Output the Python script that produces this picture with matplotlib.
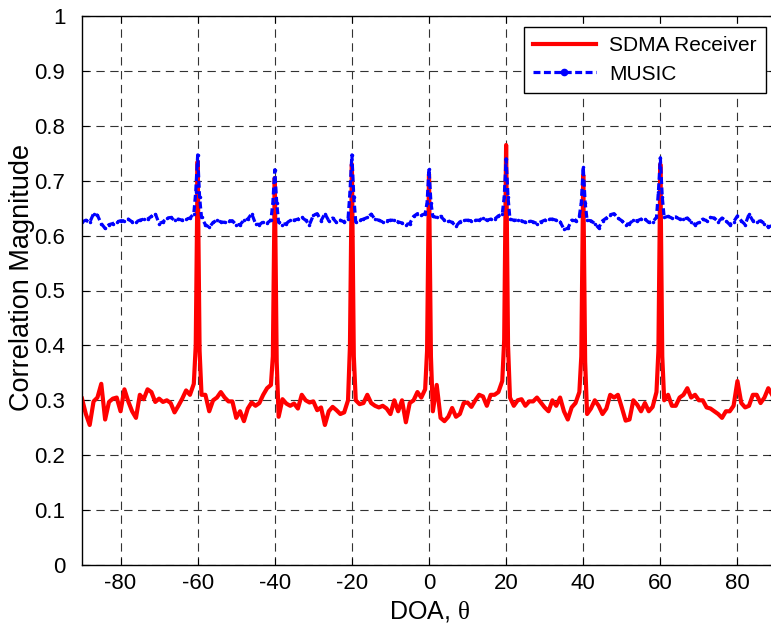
import numpy as np
import matplotlib
matplotlib.use('Agg')
import matplotlib.pyplot as plt

# Dane (krok 1 stopień, od -90 do 90)
doa = list(range(-90, 91))

sdma = [
    0.303, 0.275, 0.255, 0.298, 0.305, 0.330, 0.265, 0.297, 0.303, 0.305,
    0.280, 0.320, 0.298, 0.280, 0.268, 0.310, 0.302, 0.320, 0.315, 0.297,
    0.303, 0.297, 0.300, 0.295, 0.278, 0.290, 0.303, 0.318, 0.310, 0.330,
    0.735, 0.310, 0.310, 0.280, 0.300, 0.305, 0.315, 0.305, 0.298, 0.298,
    0.268, 0.280, 0.262, 0.285, 0.296, 0.290, 0.295, 0.310, 0.322, 0.328,
    0.705, 0.270, 0.302, 0.294, 0.290, 0.294, 0.285, 0.310, 0.300, 0.296,
    0.298, 0.282, 0.287, 0.255, 0.280, 0.288, 0.282, 0.275, 0.278, 0.300,
    0.730, 0.300, 0.293, 0.295, 0.310, 0.295, 0.290, 0.287, 0.290, 0.285,
    0.275, 0.300, 0.280, 0.300, 0.260, 0.295, 0.300, 0.315, 0.305, 0.320,
    0.712, 0.280, 0.328, 0.268, 0.262, 0.270, 0.286, 0.270, 0.275, 0.295,
    0.296, 0.288, 0.300, 0.310, 0.307, 0.290, 0.310, 0.310, 0.315, 0.335,
    0.765, 0.305, 0.290, 0.300, 0.302, 0.290, 0.298, 0.298, 0.305, 0.296,
    0.287, 0.280, 0.300, 0.290, 0.305, 0.280, 0.265, 0.287, 0.295, 0.315,
    0.710, 0.275, 0.285, 0.300, 0.290, 0.275, 0.285, 0.310, 0.305, 0.310,
    0.287, 0.263, 0.265, 0.300, 0.292, 0.280, 0.295, 0.280, 0.288, 0.315,
    0.730, 0.300, 0.310, 0.290, 0.290, 0.305, 0.310, 0.322, 0.305, 0.310,
    0.300, 0.300, 0.287, 0.285, 0.280, 0.275, 0.268, 0.280, 0.280, 0.290,
    0.335, 0.295, 0.287, 0.290, 0.310, 0.310, 0.295, 0.305, 0.322, 0.310,
    0.300,
]

music = [
    0.625, 0.628, 0.624, 0.640, 0.637, 0.622, 0.613, 0.620, 0.622, 0.625,
    0.627, 0.627, 0.630, 0.625, 0.625, 0.628, 0.630, 0.630, 0.635, 0.640,
    0.622, 0.625, 0.632, 0.633, 0.628, 0.630, 0.628, 0.630, 0.632, 0.640,
    0.747, 0.633, 0.620, 0.615, 0.624, 0.628, 0.625, 0.624, 0.627, 0.627,
    0.620, 0.620, 0.628, 0.630, 0.640, 0.622, 0.620, 0.625, 0.623, 0.628,
    0.720, 0.624, 0.620, 0.622, 0.628, 0.628, 0.630, 0.633, 0.628, 0.620,
    0.637, 0.640, 0.627, 0.640, 0.627, 0.632, 0.624, 0.628, 0.625, 0.630,
    0.747, 0.625, 0.628, 0.630, 0.633, 0.639, 0.630, 0.628, 0.625, 0.627,
    0.628, 0.628, 0.625, 0.623, 0.620, 0.622, 0.635, 0.640, 0.637, 0.640,
    0.722, 0.635, 0.633, 0.635, 0.628, 0.627, 0.624, 0.617, 0.625, 0.628,
    0.628, 0.627, 0.628, 0.628, 0.632, 0.628, 0.630, 0.630, 0.636, 0.639,
    0.740, 0.630, 0.628, 0.628, 0.627, 0.624, 0.627, 0.625, 0.622, 0.625,
    0.628, 0.630, 0.630, 0.628, 0.625, 0.612, 0.613, 0.628, 0.627, 0.636,
    0.725, 0.628, 0.627, 0.622, 0.614, 0.627, 0.632, 0.638, 0.640, 0.632,
    0.627, 0.620, 0.622, 0.628, 0.627, 0.630, 0.630, 0.624, 0.625, 0.633,
    0.742, 0.633, 0.635, 0.632, 0.634, 0.630, 0.630, 0.632, 0.625, 0.620,
    0.624, 0.630, 0.627, 0.633, 0.632, 0.625, 0.632, 0.627, 0.620, 0.625,
    0.636, 0.627, 0.620, 0.639, 0.627, 0.625, 0.627, 0.622, 0.616, 0.618,
    0.620,
]

# Zbocza pików (pół stopnia po obu stronach)
shoulder_doa = [-60.5, -59.5, -40.5, -39.5, -20.5, -19.5, -0.5, 0.5,
                19.5, 20.5, 39.5, 40.5, 59.5, 60.5]
sdma_shoulder = [0.40, 0.39, 0.38, 0.37, 0.40, 0.38, 0.39, 0.38,
                 0.41, 0.40, 0.38, 0.37, 0.39, 0.38]
music_shoulder = [0.68, 0.67, 0.66, 0.66, 0.68, 0.67, 0.66, 0.66,
                  0.67, 0.67, 0.66, 0.66, 0.68, 0.67]

x_all = np.array(doa + shoulder_doa, dtype=float)
order = np.argsort(x_all)
x_all = x_all[order]
y_sdma = np.array(sdma + sdma_shoulder)[order]
y_music = np.array(music + music_shoulder)[order]

plt.rcParams['font.family'] = ['Liberation Sans', 'DejaVu Sans']
plt.rcParams['mathtext.fontset'] = 'custom'
plt.rcParams['mathtext.rm'] = 'Liberation Serif'
plt.rcParams['lines.scale_dashes'] = False
plt.rcParams['axes.unicode_minus'] = False

narrow = ['Liberation Sans Narrow', 'Liberation Sans', 'DejaVu Sans']

fig = plt.figure(figsize=(7.71, 6.26), dpi=100)
ax = fig.add_axes([82 / 771, 61 / 626, 694 / 771, 549 / 626])

ax.plot(x_all, y_sdma, color='#ff0000', linewidth=3.0, label='SDMA Receiver')
ax.plot(x_all, y_music, color='#0000ff', linewidth=2.3,
        linestyle='--', dashes=(5, 2.5), marker='.',
        markersize=3, label='MUSIC')

ax.set_xlim(-90, 90)
ax.set_ylim(0, 1)
ax.set_xticks(np.arange(-80, 81, 20))
ax.set_yticks(np.arange(0, 1.01, 0.1))
ax.set_yticklabels(['0', '0.1', '0.2', '0.3', '0.4', '0.5', '0.6', '0.7',
                    '0.8', '0.9', '1'])
ax.tick_params(direction='in', length=5, top=True, right=True, width=0.8)
ax.tick_params(axis='y', pad=12)
ax.tick_params(axis='x', pad=6)
for lbl in ax.get_xticklabels() + ax.get_yticklabels():
    lbl.set_family(narrow)
    lbl.set_fontsize(16)
ax.grid(True, color='0.2', linestyle=(0, (6, 4)), linewidth=0.8)
for s in ax.spines.values():
    s.set_linewidth(1.0)

ax.set_xlabel(r'DOA, $\mathrm{\theta}$', fontsize=18, labelpad=3)
ax.set_ylabel('Correlation Magnitude', fontsize=19.5)
ax.yaxis.set_label_coords(-0.068, 0.523)

leg = ax.legend(loc='upper right', bbox_to_anchor=(766 / 771, 1 - 27 / 626),
                bbox_transform=fig.transFigure, borderaxespad=0,
                fontsize=15, handlelength=3.0, handletextpad=0.65,
                fancybox=False, framealpha=1, edgecolor='black',
                labelspacing=0.45, borderpad=0.45)
leg.get_frame().set_linewidth(1.0)
leg.legend_handles[1].set_markersize(9)

fig.savefig('out.png', dpi=100)
